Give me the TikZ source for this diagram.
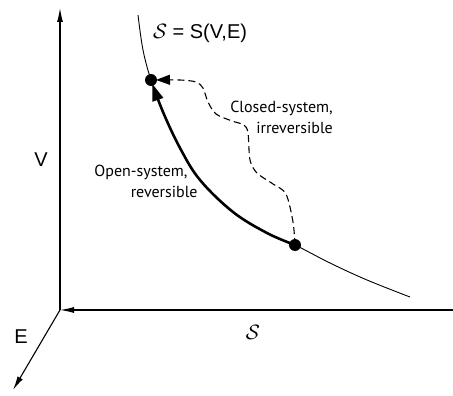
\documentclass[tikz,border=0pt]{standalone}
\usepackage{fontspec}
\setmainfont{Liberation Sans}
\newfontfamily\notefont{PT Sans}
\usepackage{amsmath}
\usetikzlibrary{arrows.meta,positioning}

\begin{document}
\begin{tikzpicture}[
  x=1pt,
  y=-1pt,
  >={Latex[length=14pt,width=6pt]},
  axis/.style={->, line width=1.1pt},
  curve/.style={line width=0.9pt},
  state/.style={circle, fill=black, inner sep=0pt, minimum size=12pt},
  note/.style={font=\notefont\fontsize{16}{21}\selectfont, align=right, inner sep=0pt},
  axislabel/.style={font=\fontsize{20}{24}\selectfont, inner sep=0pt}
]
\useasboundingbox (0,0) rectangle (453,396);
% axes
\coordinate (origin) at (60,310);
\coordinate (vtip) at (60,8);
\coordinate (sfar) at (453,310);
\coordinate (etip) at (13,390);
\draw[axis] (origin) -- (vtip);
\draw[axis] (sfar) -- (origin);
\draw[axis] (origin) -- (etip);
\node[axislabel] (vlab) at (41,160) {V};
\node[axislabel] (elab) at (21,337) {E};
\node[axislabel] (slab) at (253,332) {$\mathcal{S}$};
% surface S(V,E)
\draw[curve] plot[smooth, tension=0.6] coordinates {
  (138,15) (143,50) (151,80) (163,112) (180,148) (200,180)
  (233,212) (267,233) (295,245) (330,263) (367,280) (410,297)};
\node[axislabel] (surf) at (200,33) {$\mathcal{S}$ = S(V,E)};
% states
\node[state] (final) at (151,80) {};
\node[state] (start) at (295,245) {};
% reversible path
\draw[->, line width=2.6pt, >={Triangle[length=17pt,width=11pt]}, shorten >=4pt]
  plot[smooth, tension=0.6] coordinates {
  (start) (267,233) (233,212) (200,180) (180,148) (163,112) (final)};
\node[note] (open) at (146,181) {Open-system,\hspace*{10pt}\\reversible};
% irreversible path
\draw[->, dashed, dash pattern=on 7pt off 4pt, line width=1.1pt,
  >={Triangle[length=14pt,width=10pt]}, shorten >=5pt]
  plot[smooth, tension=0.5] coordinates {
  (start) (293,222) (286,194) (273,184) (257,173) (250,160) (248,133)
  (244,125) (232,121) (216,114) (208,102) (203,88) (196,82) (180,80) (final)};
\node[note, anchor=east] (closed) at (333,117) {Closed-system,\\irreversible};
\end{tikzpicture}
\end{document}
